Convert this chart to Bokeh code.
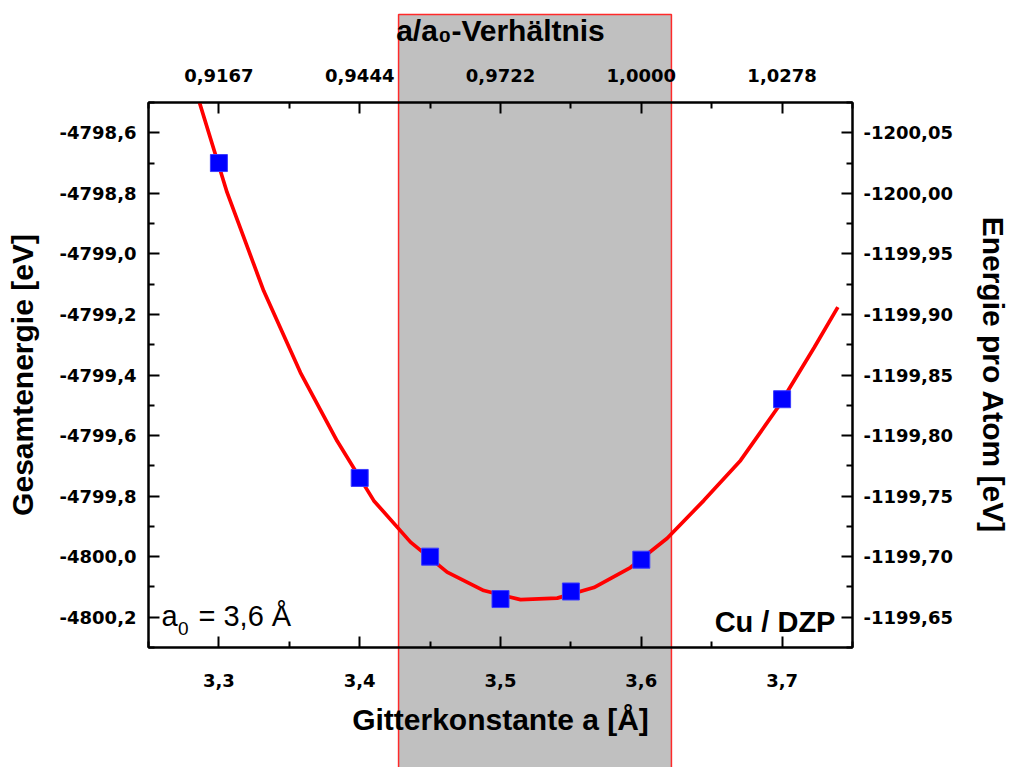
from bokeh.plotting import figure
from bokeh.models import (Range1d, LinearAxis, FixedTicker, CustomJSTickFormatter,
                          Label, ColumnDataSource)
from bokeh.embed import file_html
from bokeh.resources import INLINE

# ---------------- data ----------------
a0 = 3.6
lattice_a = [3.30, 3.40, 3.45, 3.50, 3.55, 3.60, 3.70]
total_energy = [-4798.70, -4799.74, -4800.00, -4800.14, -4800.115, -4800.01, -4799.48]

fit_a = [3.2862, 3.3058, 3.3318, 3.3579, 3.3840, 3.4100, 3.4361, 3.4621, 3.4881,
         3.5142, 3.5403, 3.5663, 3.5923, 3.6184, 3.6445, 3.6705, 3.6966, 3.7227, 3.7396]
fit_e = [-4798.500, -4798.797, -4799.122, -4799.392, -4799.618, -4799.815, -4799.952,
         -4800.051, -4800.112, -4800.142, -4800.137, -4800.102, -4800.036, -4799.939,
         -4799.814, -4799.682, -4799.510, -4799.310, -4799.176]

band_a = [3.4276, 3.6214]

x_ticks = [3.3, 3.4, 3.5, 3.6, 3.7]
x_minor = [3.25, 3.35, 3.45, 3.55, 3.65, 3.75]
left_ticks = [-4800.2, -4800.0, -4799.8, -4799.6, -4799.4, -4799.2, -4799.0, -4798.8, -4798.6]
left_minor = [-4800.3, -4800.1, -4799.9, -4799.7, -4799.5, -4799.3, -4799.1, -4798.9, -4798.7, -4798.5]
right_ticks = [-1200.05, -1200.00, -1199.95, -1199.90, -1199.85, -1199.80, -1199.75, -1199.70, -1199.65]
right_minor = [-1200.075, -1200.025, -1199.975, -1199.925, -1199.875, -1199.825, -1199.775, -1199.725, -1199.675, -1199.625]

x_lo, x_hi = 3.25, 3.75
y_lo, y_hi = -4800.3, -4798.5
r_bottom, r_top = -1199.625, -1200.075   # per-atom energy axis (reversed)

# ---------------- layout constants (pixels) ----------------
W, H = 1012, 767
FL, FR, FT, FB = 148, 160, 102, 120          # borders around the frame
FW, FH = W - FL - FR, H - FT - FB
BAND_TOP_PX = 14

# background figure spanning the whole canvas, sharing the main figure's scale
px_x = (x_hi - x_lo) / FW
px_y = (y_hi - y_lo) / FH
bg = figure(width=W, height=H, min_border=0,
            min_border_left=0, min_border_right=0, min_border_top=0, min_border_bottom=0,
            x_range=Range1d(x_lo - FL * px_x, x_hi + FR * px_x),
            y_range=Range1d(y_lo - FB * px_y, y_hi + FT * px_y),
            output_backend="svg", toolbar_location=None,
            x_axis_location=None, y_axis_location=None)
bg.grid.visible = False
bg.outline_line_color = None
bg.background_fill_color = "white"
bg.border_fill_color = "white"
bg.quad(left=[band_a[0]], right=[band_a[1]],
        top=[y_hi + (FT - BAND_TOP_PX) * px_y], bottom=[y_lo - (FB + 20) * px_y],
        fill_color="#C0C0C0", line_color="#FF2A2A", line_width=1.5)

# ---------------- main figure ----------------
p = figure(frame_width=FW, frame_height=FH,
           min_border_left=FL, min_border_right=FR,
           min_border_top=FT, min_border_bottom=FB,
           x_range=Range1d(x_lo, x_hi), y_range=Range1d(y_lo, y_hi),
           output_backend="svg", toolbar_location=None)
p.background_fill_alpha = 0
p.border_fill_alpha = 0
p.grid.visible = False
p.outline_line_color = "black"
p.outline_line_width = 2
p.styles = {"position": "absolute", "left": "0px", "top": "0px"}

bottom_axis = p.below[0]
left_axis = p.left[0]

p.extra_x_ranges = {"ratio": Range1d(x_lo / a0, x_hi / a0)}
p.extra_y_ranges = {"atom": Range1d(r_bottom, r_top)}
top_axis = LinearAxis(x_range_name="ratio")
right_axis = LinearAxis(y_range_name="atom")
p.add_layout(top_axis, "above")
p.add_layout(right_axis, "right")

bottom_axis.ticker = FixedTicker(ticks=x_ticks, minor_ticks=x_minor)
top_axis.ticker = FixedTicker(ticks=[v / a0 for v in x_ticks], minor_ticks=[v / a0 for v in x_minor])
left_axis.ticker = FixedTicker(ticks=left_ticks, minor_ticks=left_minor)
right_axis.ticker = FixedTicker(ticks=right_ticks, minor_ticks=right_minor)

bottom_axis.formatter = CustomJSTickFormatter(code="return tick.toFixed(1).replace('.', ',');")
left_axis.formatter = CustomJSTickFormatter(code="return tick.toFixed(1).replace('.', ',');")
right_axis.formatter = CustomJSTickFormatter(code="return tick.toFixed(2).replace('.', ',');")
top_axis.formatter = CustomJSTickFormatter(code="return tick.toFixed(4).replace('.', ',');")

bottom_axis.axis_label = "Gitterkonstante a [Å]"
left_axis.axis_label = "Gesamtenergie [eV]"
right_axis.axis_label = "Energie pro Atom [eV]"
top_axis.axis_label = "a/a₀-Verhältnis"

for ax in (bottom_axis, top_axis, left_axis, right_axis):
    ax.axis_line_width = 2
    ax.axis_line_color = "black"
    ax.major_tick_line_width = 2
    ax.minor_tick_line_width = 2
    ax.major_tick_line_color = "black"
    ax.minor_tick_line_color = "black"
    ax.major_tick_in = 11
    ax.major_tick_out = 0
    ax.minor_tick_in = 6
    ax.minor_tick_out = 0
    ax.major_label_text_font = "DejaVu Sans"
    ax.major_label_text_font_style = "bold"
    ax.major_label_text_font_size = "18px"
    ax.major_label_text_color = "black"
    ax.axis_label_text_font = "Liberation Sans"
    ax.axis_label_text_font_style = "bold"
    ax.axis_label_text_font_size = "30px"
    ax.axis_label_text_color = "black"

left_axis.major_label_standoff = 12
right_axis.major_label_standoff = 11
bottom_axis.major_label_standoff = 26
top_axis.major_label_standoff = 21
left_axis.axis_label_standoff = 18
right_axis.axis_label_standoff = 21
bottom_axis.axis_label_standoff = 13
top_axis.axis_label_standoff = 19

src_fit = ColumnDataSource(dict(a=fit_a, e=fit_e))
src_pts = ColumnDataSource(dict(a=lattice_a, e=total_energy))
p.line("a", "e", source=src_fit, line_color="#FF0000", line_width=3.7)
p.scatter("a", "e", source=src_pts, marker="square", size=17,
          fill_color="#0000FF", line_color="#3A3AFF", line_width=1)

def lab(x, y, text, size, bold=False, align="left"):
    p.add_layout(Label(x=x, y=y, text=text, text_font="Liberation Sans",
                       text_font_size=size, text_font_style="bold" if bold else "normal",
                       text_color="black", text_align=align, text_baseline="alphabetic"))

lab(3.2592, -4800.197, "a", "29px")
lab(3.2710, -4800.237, "0", "19px")
lab(3.2855, -4800.197, "= 3,6 Å", "29px")
lab(3.7379, -4800.216, "Cu / DZP", "29px", bold=True, align="right")

# two separate roots (no frame alignment); the main figure is overlaid on the background
open("out.html", "w").write(file_html([bg, p], INLINE))
